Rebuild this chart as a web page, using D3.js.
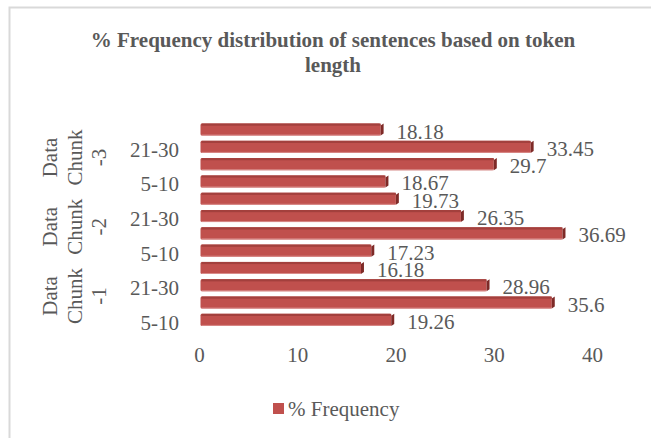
<!DOCTYPE html>
<html><head><meta charset="utf-8">
<script src="https://cdn.jsdelivr.net/npm/d3@7"></script>
<style>
html,body{margin:0;padding:0;background:#fff;}
text{font-family:"Liberation Serif","Times New Roman",serif;fill:#595959;}
</style></head>
<body>
<svg id="chart" width="651" height="438"></svg>
<script>
// ---- data ----
const groups = ["Data Chunk -1", "Data Chunk -2", "Data Chunk -3"];
const categories = ["5-10", "11-20", "21-30", ">30"];
const chunk1 = [19.26, 35.6, 28.96, 16.18];
const chunk2 = [17.23, 36.69, 26.35, 19.73];
const chunk3 = [18.67, 29.7, 33.45, 18.18];
const xTicks = [0, 10, 20, 30, 40];
const seriesName = "% Frequency";
const titleLines = ["% Frequency distribution of sentences based on token", "length"];

const groupValues = [chunk1, chunk2, chunk3];
const rows = [];
groups.forEach((g, gi) => categories.forEach((c, ci) => rows.push({group: g, cat: c, ci, key: g + "|" + c, value: groupValues[gi][ci]})));

const svg = d3.select("#chart");
const W = 651, H = 438;

// chart border (left/top visible, extends past the window)
svg.append("rect").attr("x", 9.5).attr("y", 7.5).attr("width", W + 20).attr("height", H + 20)
  .attr("fill", "#fff").attr("stroke", "#D9D9D9").attr("stroke-width", 2);

// title
const title = svg.append("text").attr("text-anchor", "middle").attr("font-weight", "bold")
  .attr("font-size", 21).style("fill", "#595959");
titleLines.forEach((t, i) => title.append("tspan").attr("x", 333).attr("y", 47 + i * 25).text(t));

// scales
const x = d3.scaleLinear().domain([0, 40]).range([199, 592]);
const y = d3.scaleBand().domain(rows.map(d => d.key)).range([328.5, 120.9]).paddingInner(0.3).paddingOuter(0.15);
const bh = y.bandwidth();

// bars with 3D-like bevel
const bars = svg.append("g");
rows.forEach(d => {
  const y0 = y(d.key), x0 = x(0) + 1.5, x1 = x(d.value) + 3;
  bars.append("rect").attr("x", x0).attr("y", y0).attr("width", x1 - x0).attr("height", bh)
    .attr("rx", 1.5).attr("fill", "#C0504D");
  bars.append("rect").attr("x", x0 + 1).attr("y", y0).attr("width", x1 - x0 - 1).attr("height", 2.2)
    .attr("fill", "#A3403D");
  bars.append("path")
    .attr("d", `M${x1},${y0 + 2}L${x1 + 3},${y0}L${x1 + 3},${y0 + bh - 2}L${x1},${y0 + bh}Z`)
    .attr("fill", "#7E2A27");
  bars.append("line").attr("x1", x0 + 1).attr("x2", x1).attr("y1", y0 + bh - 0.5).attr("y2", y0 + bh - 0.5)
    .attr("stroke", "#D98C8A").attr("stroke-width", 1);
});

// data labels
svg.append("g").selectAll("text").data(rows).join("text")
  .attr("x", d => x(d.value) + 19).attr("y", d => y(d.key) + bh / 2 + 9)
  .attr("font-size", 21).text(d => String(d.value));

// category axis labels (every other category shown)
svg.append("g").selectAll("text").data(rows.filter(d => d.ci % 2 === 0)).join("text")
  .attr("x", 179).attr("y", d => y(d.key) + bh / 2 + 10)
  .attr("text-anchor", "end").attr("font-size", 21).text(d => d.cat);

// group labels (rotated, wrapped)
groups.forEach(g => {
  const keys = rows.filter(d => d.group === g).map(d => y(d.key) + bh / 2);
  const cy = (d3.min(keys) + d3.max(keys)) / 2 + 2;
  const words = g.split(" ");
  const t = svg.append("text").attr("transform", `translate(57,${cy}) rotate(-90)`)
    .attr("text-anchor", "middle").attr("font-size", 21);
  words.forEach((w, i) => t.append("tspan").attr("x", 0).attr("y", i * 24.5).text(w));
});

// x axis
const xAxis = svg.append("g").attr("transform", "translate(0,362)")
  .call(d3.axisBottom(x).tickValues(xTicks).tickSize(0).tickPadding(0));
xAxis.select(".domain").remove();
xAxis.selectAll("text").attr("font-size", 21).attr("dy", 0)
  .style("font-family", '"Liberation Serif","Times New Roman",serif').style("fill", "#595959");

// legend
svg.append("rect").attr("x", 273).attr("y", 403).attr("width", 11).attr("height", 11).attr("fill", "#C0504D");
svg.append("text").attr("x", 288).attr("y", 415.5).attr("font-size", 21).text(seriesName);
</script>
</body></html>
